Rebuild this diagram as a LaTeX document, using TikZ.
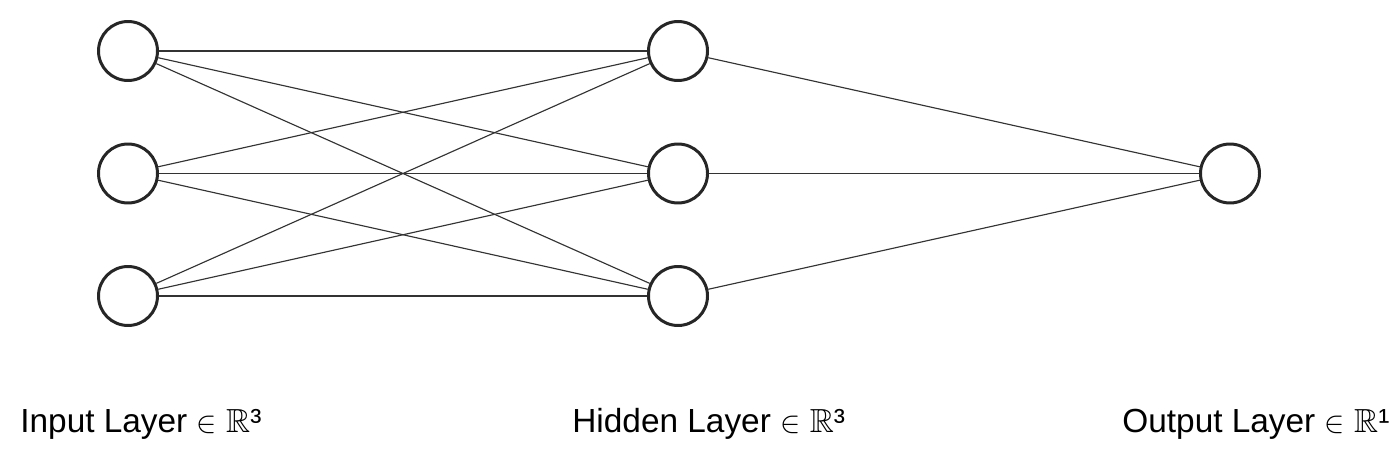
\documentclass[tikz,border=0pt]{standalone}
\usepackage{amsmath}
\usepackage{amssymb}
\usepackage{fontspec}
\setmainfont{Liberation Sans}
\usetikzlibrary{positioning}
\tikzset{
    on grid,
    node distance=2.45cm,
    neuron/.style = {
        draw,
        shape=circle,
        minimum size=1.18cm,
        inner sep=0pt,
        line width=1.7pt,
        draw=black!85
    },
    layerlabel/.style = {
        anchor=base west,
        inner sep=0pt,
        font=\fontsize{19}{24}\selectfont
    },
    link/.style = {
        draw=black!80,
        line width=0.65pt
    },
}

\begin{document}
\begin{tikzpicture}
        \useasboundingbox (0,0) rectangle (28,-9.24);
        \node[neuron] (in1) at (2.56,-1.02) {};
        \node[neuron, below=of in1] (in2) {};
        \node[neuron, below=of in2] (in3) {};
        \node[neuron, right=11cm of in1] (hid1) {};
        \node[neuron, right=11cm of in2] (hid2) {};
        \node[neuron, right=11cm of in3] (hid3) {};
        \node[neuron, right=11.04cm of hid2] (out) {};

        \node[layerlabel] (inlabel) at (0.4,-8.64) {Input Layer ${\in}$ $\mathbb{R}$³};
        \node[layerlabel] (hidlabel) at (11.44,-8.64) {Hidden Layer ${\in}$ $\mathbb{R}$³};
        \node[layerlabel] (outlabel) at (22.44,-8.64) {Output Layer ${\in}$ $\mathbb{R}$¹};

        \foreach \i in {1,2,3}
            \foreach \j in {1,2,3}
                \path[link] (in\i) -- (hid\j);
        \foreach \j in {1,2,3}
            \path[link] (hid\j) -- (out);
    \end{tikzpicture}
\end{document}
